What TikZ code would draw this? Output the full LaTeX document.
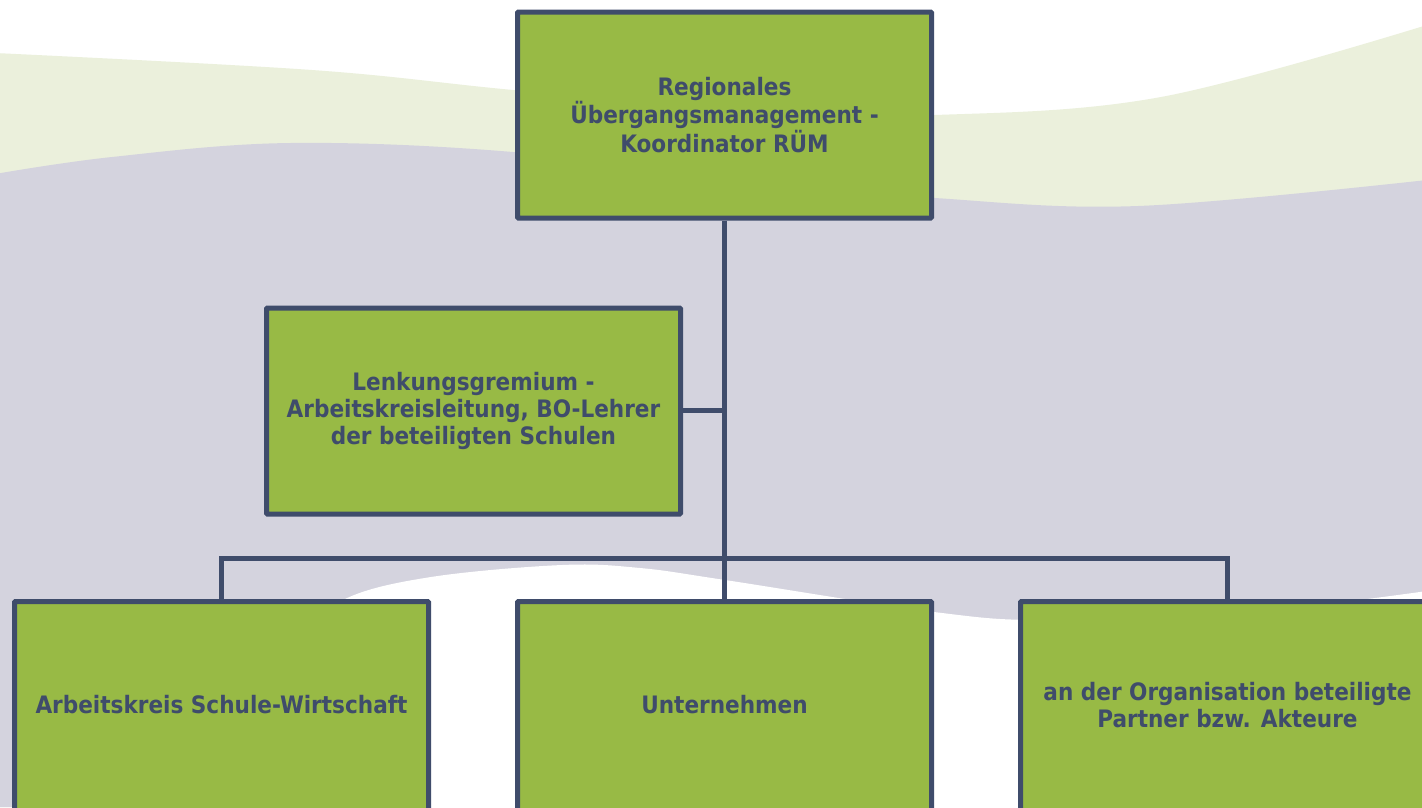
\documentclass[tikz,border=0pt]{standalone}
\usepackage{fontspec}
\setmainfont{DejaVu Sans Condensed}
\definecolor{bord}{HTML}{3F4C6B}
\definecolor{boxg}{HTML}{98BA45}
\definecolor{lgreen}{HTML}{EBF0DC}
\definecolor{lgrey}{HTML}{D4D3DE}
\tikzset{
  boxfont/.style={text=bord, align=center, font=\fontsize{24}{27}\selectfont\bfseries},
  orgbox/.style={draw=bord, line width=5pt, fill=boxg, boxfont,
    minimum width=414pt, minimum height=206pt, inner sep=0pt, rounded corners=1pt},
  lowbox/.style={orgbox, minimum height=240pt, anchor=north},
  conn/.style={draw=bord, line width=5pt}
}
\begin{document}
\begin{tikzpicture}[x=1pt,y=-1pt]
\useasboundingbox (0,0) rectangle (1422,807);
\clip (0,0) rectangle (1422,807);
\fill[white] (0,0) rectangle (1422,807);
% light green band
\fill[lgreen] plot[smooth, tension=0.6] coordinates {(-5,53) (312,70) (513,90) (760,112) (935,115) (1161,97) (1427,25)}
  -- (1427,807) -- (-5,807) -- cycle;
% grey band
\fill[lgrey] plot[smooth, tension=0.6] coordinates {(-5,174) (112,157) (290,143) (513,152) (760,182) (935,198) (1138,206) (1427,180)}
  -- (1427,807) -- (-5,807) -- cycle;
% white wave
\fill[white] plot[smooth, tension=0.6] coordinates {(220,812) (300,640) (345,599) (431,577) (562,565) (640,568) (725,580) (934,612) (1050,620) (1250,612) (1427,591)}
  -- (1427,812) -- cycle;
% nodes
\node[orgbox] (top) at (724.5,115) {Regionales\\Übergangsmanagement -\\Koordinator RÜM};
\node[orgbox] (lenk) at (473.5,411) {Lenkungsgremium -\\Arbeitskreisleitung, BO-Lehrer\\der beteiligten Schulen};
\node[lowbox] (ak) at (221.5,599) {};
\node[lowbox] (un) at (724.5,599) {};
\node[lowbox] (part) at (1227.5,599) {};
\node[boxfont] (akt) at (221.5,705) {Arbeitskreis Schule-Wirtschaft};
\node[boxfont] (unt) at (724.5,705) {Unternehmen};
\node[boxfont] (partt) at (1227.5,705) {an der Organisation beteiligte\\Partner bzw. Akteure};
% connectors
\coordinate (bar) at (724.5,558.5);
\coordinate (lj) at (724.5,410.5);
\draw[conn] (top.south) -- (un.north);
\draw[conn] (lenk.east |- lj) -- (lj);
\draw[conn] (ak.north) |- (bar) -| (part.north);
\end{tikzpicture}
\end{document}
